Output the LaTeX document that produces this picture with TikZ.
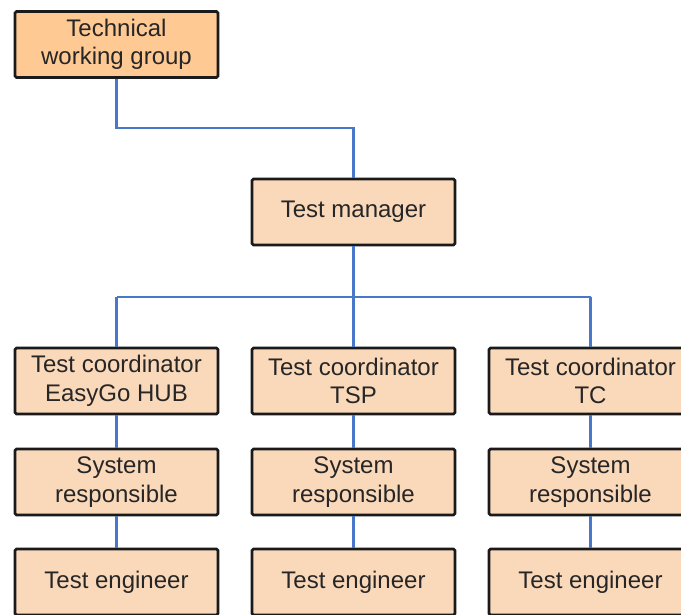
\documentclass[tikz,border=0pt]{standalone}
\usepackage{fontspec}
\setmainfont{Liberation Sans}
\definecolor{boxA}{HTML}{FFC994}
\definecolor{boxB}{HTML}{FAD8BA}
\definecolor{lineblue}{HTML}{4A78C8}
\definecolor{edgedark}{HTML}{1A1A1A}
\begin{document}
\begin{tikzpicture}[x=1pt,y=1pt,
  orgbox/.style={draw=edgedark, line width=2.6pt, fill=boxB, minimum width=203pt, minimum height=66pt,
    inner sep=0pt, align=center, rounded corners=1.5pt,
    font=\fontsize{24}{28.5}\selectfont, text=black!85},
  topbox/.style={orgbox, fill=boxA},
  link/.style={draw=lineblue, line width=2.2pt}]
\useasboundingbox (0,0) rectangle (681,-615);
\fill[white] (0,0) rectangle (681,-615);
\coordinate (bend1) at (116.5,-128);
\coordinate (bend2) at (353.5,-128);
\coordinate (busL) at (116.5,-297);
\coordinate (busM) at (353.5,-297);
\coordinate (busR) at (590.5,-297);
\node[topbox] (twg) at (116.5,-44.5) {Technical\\working group};
\node[orgbox] (tm) at (353.5,-212) {Test manager};
\node[orgbox] (c1) at (116.5,-381) {Test coordinator\\EasyGo HUB};
\node[orgbox] (c2) at (353.5,-381) {Test coordinator\\TSP};
\node[orgbox] (c3) at (590.5,-381) {Test coordinator\\TC};
\node[orgbox] (s1) at (116.5,-482) {System\\responsible};
\node[orgbox] (s2) at (353.5,-482) {System\\responsible};
\node[orgbox] (s3) at (590.5,-482) {System\\responsible};
\node[orgbox] (e1) at (116.5,-582) {Test engineer};
\node[orgbox] (e2) at (353.5,-582) {Test engineer};
\node[orgbox] (e3) at (590.5,-582) {Test engineer};
\draw[link] (twg.south) -- (bend1) -- (bend2) -- (tm.north);
\draw[link] (tm.south) -- (busM);
\draw[link] (busL) -- (busR);
\draw[link] (busL) -- (c1.north);
\draw[link] (busM) -- (c2.north);
\draw[link] (busR) -- (c3.north);
\draw[link] (c1.south) -- (s1.north);
\draw[link] (c2.south) -- (s2.north);
\draw[link] (c3.south) -- (s3.north);
\draw[link] (s1.south) -- (e1.north);
\draw[link] (s2.south) -- (e2.north);
\draw[link] (s3.south) -- (e3.north);
\end{tikzpicture}
\end{document}
